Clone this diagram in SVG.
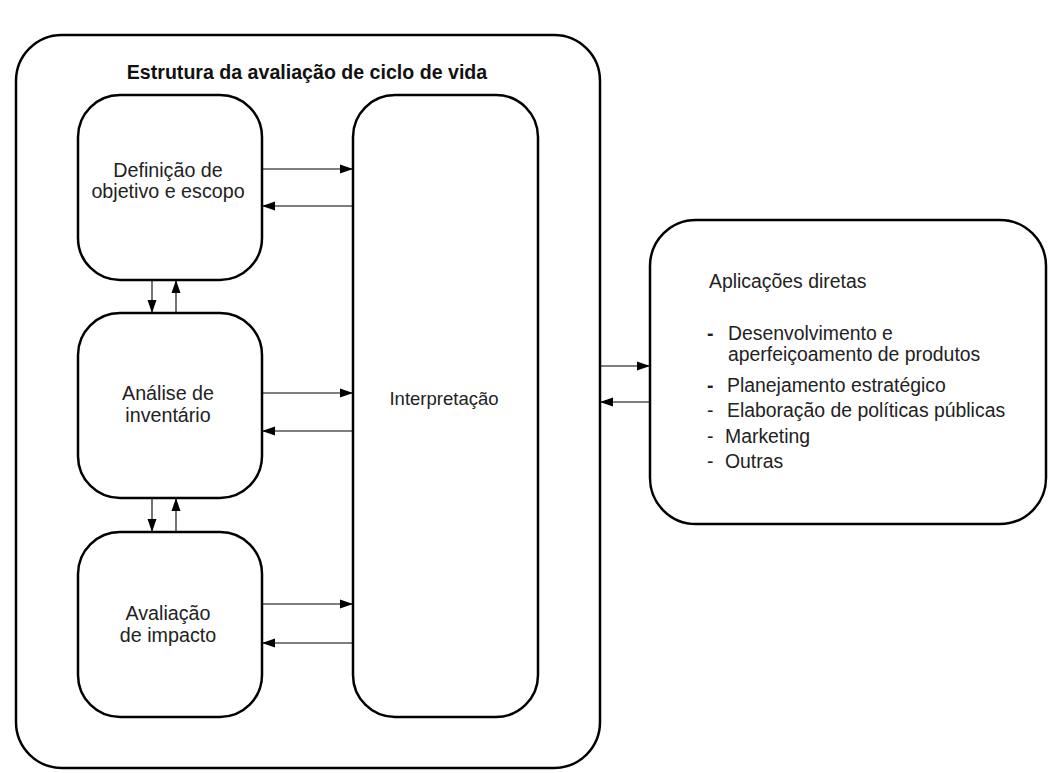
<svg xmlns="http://www.w3.org/2000/svg" width="1053" height="773" viewBox="0 0 1053 773">
<defs>
<style>
.box{fill:#fff;stroke:#000;stroke-width:2.5}
.t{font-family:"Liberation Sans",Arial,sans-serif;font-size:19.7px;fill:#222}
.i{font-family:"Liberation Sans",Arial,sans-serif;font-size:18.5px;fill:#222}
.r{font-family:"Liberation Sans",Arial,sans-serif;font-size:19.4px;fill:#222}
.b{font-weight:bold}
.title{font-family:"Liberation Sans",Arial,sans-serif;font-size:19.6px;font-weight:bold;fill:#111}
.c line{stroke:#000;stroke-width:1.1}
</style>
<marker id="ah" markerWidth="14" markerHeight="10" refX="13" refY="5" orient="auto" markerUnits="userSpaceOnUse">
<path d="M0,0.5 L13,5 L0,9.5 Z" fill="#000"/>
</marker>
</defs>
<rect width="1053" height="773" fill="#fff"/>
<g id="outer">
<rect class="box" x="16" y="35" width="584" height="733" rx="46" ry="46"/>
<text class="title" x="307" y="79" text-anchor="middle">Estrutura da avaliação de ciclo de vida</text>
</g>
<g id="definicao">
<rect class="box" x="78" y="95" width="184" height="185" rx="42" ry="42"/>
<text class="t" x="168" y="177" text-anchor="middle">Definição de</text>
<text class="t" x="168" y="198" text-anchor="middle">objetivo e escopo</text>
</g>
<g id="analise">
<rect class="box" x="78" y="313" width="184" height="185" rx="42" ry="42"/>
<text class="t" x="168" y="400" text-anchor="middle">Análise de</text>
<text class="t" x="168" y="422" text-anchor="middle">inventário</text>
</g>
<g id="avaliacao">
<rect class="box" x="78" y="532" width="184" height="185" rx="42" ry="42"/>
<text class="t" x="168" y="620" text-anchor="middle">Avaliação</text>
<text class="t" x="168" y="642" text-anchor="middle">de impacto</text>
</g>
<g id="interpretacao">
<rect class="box" x="353" y="95" width="185" height="622" rx="42" ry="42"/>
<text class="i" x="444" y="405" text-anchor="middle">Interpretação</text>
</g>
<g id="aplicacoes">
<rect class="box" x="650" y="220" width="396" height="304" rx="46" ry="46"/>
<text class="r" x="709" y="288">Aplicações diretas</text>
<text class="r b" x="707" y="340">-</text>
<text class="r" x="728" y="340">Desenvolvimento e</text>
<text class="r" x="728" y="361">aperfeiçoamento de produtos</text>
<text class="r b" x="707" y="392">-</text>
<text class="r" x="727" y="392">Planejamento estratégico</text>
<text class="r" x="707" y="417">-</text>
<text class="r" x="727" y="417">Elaboração de políticas públicas</text>
<text class="r" x="707" y="443">-</text>
<text class="r" x="725" y="443">Marketing</text>
<text class="r" x="707" y="468">-</text>
<text class="r" x="725" y="468">Outras</text>
</g>
<g id="connectors" class="c">
<line x1="262" y1="169" x2="353" y2="169" marker-end="url(#ah)"/>
<line x1="353" y1="206" x2="262" y2="206" marker-end="url(#ah)"/>
<line x1="262" y1="393" x2="353" y2="393" marker-end="url(#ah)"/>
<line x1="353" y1="431" x2="262" y2="431" marker-end="url(#ah)"/>
<line x1="262" y1="604" x2="353" y2="604" marker-end="url(#ah)"/>
<line x1="353" y1="643" x2="262" y2="643" marker-end="url(#ah)"/>
<line x1="152" y1="280" x2="152" y2="313" marker-end="url(#ah)"/>
<line x1="176" y1="313" x2="176" y2="280" marker-end="url(#ah)"/>
<line x1="152" y1="498" x2="152" y2="532" marker-end="url(#ah)"/>
<line x1="176" y1="532" x2="176" y2="498" marker-end="url(#ah)"/>
<line x1="600" y1="366" x2="650" y2="366" marker-end="url(#ah)"/>
<line x1="650" y1="402" x2="600" y2="402" marker-end="url(#ah)"/>
</g>
</svg>
